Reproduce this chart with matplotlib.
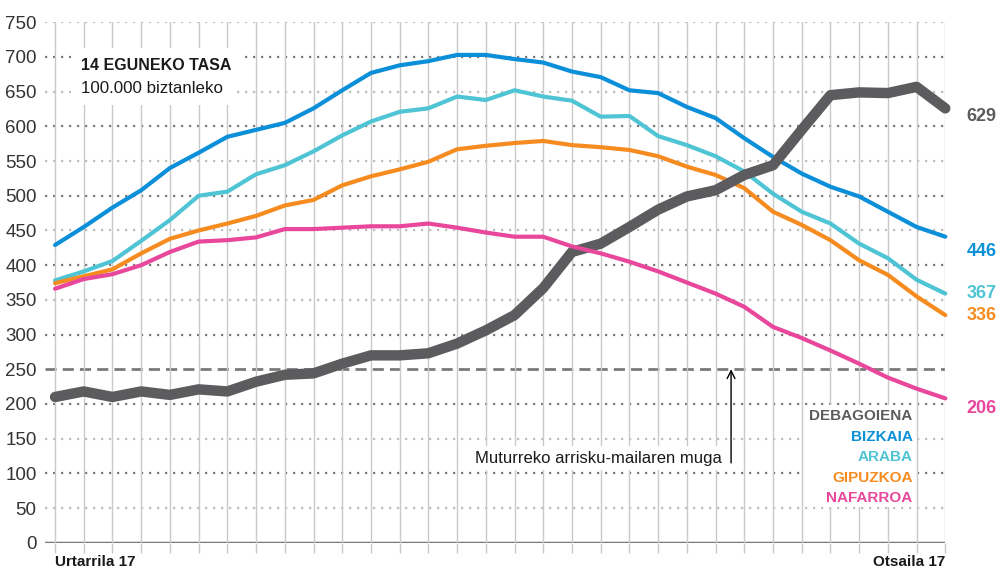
import matplotlib
matplotlib.use("Agg")
import matplotlib.pyplot as plt
from matplotlib.patches import Rectangle
import matplotlib.transforms as mtransforms

# 14-day rate per 100.000 inhabitants, Jan 17 -> Feb 17 (32 days)
days = list(range(32))
first_label = "Urtarrila 17"
last_label = "Otsaila 17"

debagoiena = [210, 218, 210, 218, 213, 221, 218, 232, 242, 244, 258, 270, 270, 273, 287, 306,
              328, 367, 419, 431, 455, 480, 499, 508, 530, 544, 595, 645, 649, 648, 657, 626]
bizkaia = [429, 455, 483, 508, 540, 562, 585, 595, 605, 626, 652, 677, 688, 694, 703, 703,
           697, 692, 679, 671, 652, 648, 628, 612, 583, 556, 532, 513, 499, 477, 455, 441]
araba = [378, 391, 406, 435, 465, 500, 506, 531, 544, 564, 587, 607, 621, 626, 643, 638,
         652, 643, 637, 614, 615, 586, 573, 557, 535, 503, 477, 460, 431, 410, 379, 359]
gipuzkoa = [374, 384, 394, 417, 438, 450, 460, 471, 486, 494, 515, 528, 538, 549, 567, 572,
            576, 579, 573, 570, 566, 557, 542, 530, 511, 477, 458, 436, 407, 386, 355, 328]
nafarroa = [366, 380, 387, 400, 419, 434, 436, 440, 452, 452, 454, 456, 456, 460, 454, 447,
            441, 441, 427, 417, 405, 391, 375, 359, 340, 311, 295, 277, 258, 238, 222, 208]

names = ["DEBAGOIENA", "BIZKAIA", "ARABA", "GIPUZKOA", "NAFARROA"]
end_labels = ["629", "446", "367", "336", "206"]
threshold = 250
yticks = list(range(0, 751, 50))

colors = ["#5c5c5e", "#0a8fd8", "#4ec4d4", "#f68b1f", "#e8479b"]

plt.rcParams["font.family"] = ["Liberation Sans", "DejaVu Sans"]
FONT = "Liberation Sans"

fig = plt.figure(figsize=(9.99, 5.72), dpi=100)
ax = fig.add_axes([45 / 999, 1 - 542.7 / 572, (945.3 - 45) / 999, 520.4 / 572])
ax.set_xlim(-0.35, 31)
ax.set_ylim(0, 750)

for s in ax.spines.values():
    s.set_visible(False)

# vertical grid
ax.set_xticks(days)
ax.grid(axis="x", color="#c9c9c9", lw=1, zorder=0)
ax.tick_params(axis="x", length=7, width=1, color="#c9c9c9", labelbottom=False)

# horizontal dotted grid: darker every 100
ax.set_yticks(yticks)
ax.tick_params(axis="y", length=0, pad=6, labelsize=13.5, labelcolor="#333333")
for v in yticks[1:]:
    if v == threshold:
        continue
    c = "#7a7a7a" if v % 100 == 0 else "#bdbdbd"
    ax.axhline(v, color=c, lw=1.6, linestyle=(0, (1, 2.6)), zorder=0.5)
ax.axhline(0, color="#7a7a7a", lw=2.5, zorder=1)
ax.axhline(threshold, color="#7a7a7a", lw=2, linestyle=(0, (4, 2.2)), zorder=1)

series = [debagoiena, bizkaia, araba, gipuzkoa, nafarroa]
order = [1, 2, 3, 0, 4]
for k in order:
    lw = 7.5 if k == 0 else 3
    ax.plot(days, series[k], color=colors[k], lw=lw, solid_capstyle="round",
            solid_joinstyle="round", zorder=3 + order.index(k), clip_on=False)

# end labels
label_dy = [-6, -11, 0, 0, -7]
for k in range(5):
    ax.annotate(end_labels[k], xy=(days[-1], series[k][-1]), xytext=(15.5, label_dy[k]),
                textcoords="offset points", color=colors[k], fontsize=13,
                fontweight="bold", family=FONT, ha="left", va="center")

# legend as coloured text on a white patch
ax.add_patch(Rectangle((26.1, 51), 3.85, 147, facecolor="white", edgecolor="none", zorder=2))
for k in range(5):
    ax.text(29.86, 182 - k * 29.5, names[k], color=colors[k], fontsize=11,
            fontweight="bold", family=FONT, ha="right", va="center", zorder=9)

# title box
ax.text(0.9, 688, "14 EGUNEKO TASA", fontsize=11.5, fontweight="bold", family=FONT,
        color="#1a1a1a", ha="left", va="center", zorder=6,
        bbox=dict(facecolor="white", edgecolor="none", pad=7))
ax.text(0.9, 655, "100.000 biztanleko", fontsize=12.2, family=FONT,
        color="#1a1a1a", ha="left", va="center", zorder=6,
        bbox=dict(facecolor="white", edgecolor="none", pad=7))

# threshold annotation
ax.annotate("", xy=(23.54, threshold), xytext=(23.54, 115),
            arrowprops=dict(arrowstyle="->", color="black", lw=1, mutation_scale=14,
                            shrinkA=0, shrinkB=0), zorder=6)
ax.text(23.22, 122, "Muturreko arrisku-mailaren muga", fontsize=12, family=FONT,
        color="#1a1a1a", ha="right", va="center", zorder=6,
        bbox=dict(facecolor="white", edgecolor="none", pad=3))

# date labels
trans = mtransforms.blended_transform_factory(ax.transData, ax.transAxes)
ax.text(days[0], -0.038, first_label, transform=trans, fontsize=11, fontweight="bold",
        family=FONT, color="#1a1a1a", ha="left", va="center")
ax.text(days[-1], -0.038, last_label, transform=trans, fontsize=11, fontweight="bold",
        family=FONT, color="#1a1a1a", ha="right", va="center")

fig.savefig("out.png", dpi=100)
